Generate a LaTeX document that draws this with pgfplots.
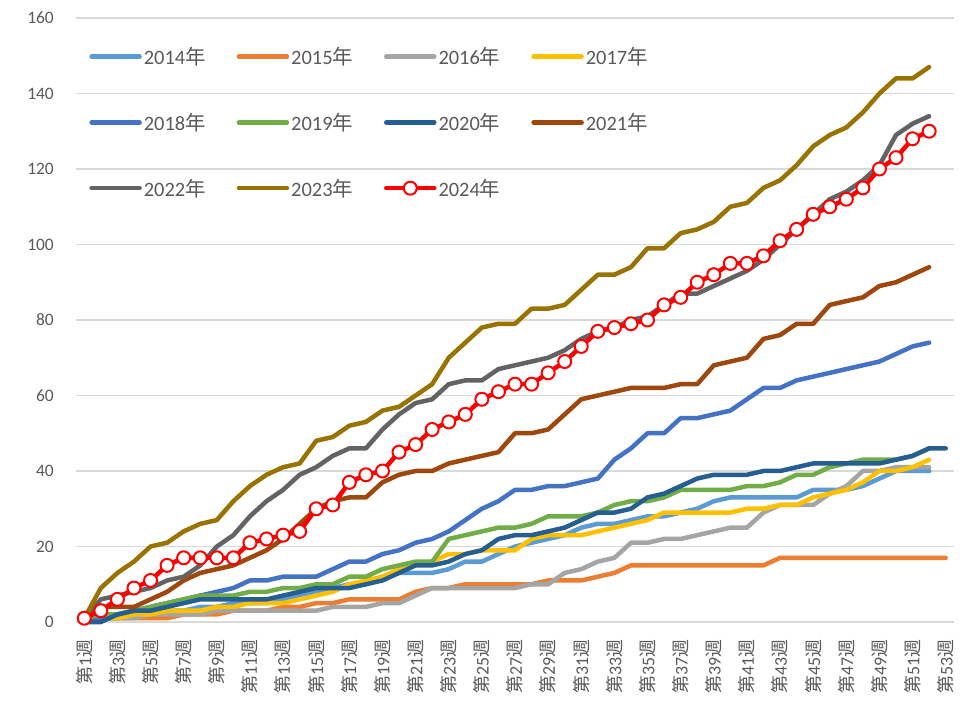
\documentclass[border=0pt]{standalone}
\usepackage{pgfplots}
\pgfplotsset{compat=1.18}
\usepackage{pgfplotstable}
\usepackage{fontspec}
\setmainfont{Carlito}
\newfontfamily\cjk{Noto Sans CJK JP}
\definecolor{c14}{HTML}{5B9BD5}
\definecolor{c15}{HTML}{ED7D31}
\definecolor{c16}{HTML}{A5A5A5}
\definecolor{c17}{HTML}{FFC000}
\definecolor{c18}{HTML}{4472C4}
\definecolor{c19}{HTML}{70AD47}
\definecolor{c20}{HTML}{255E91}
\definecolor{c21}{HTML}{9E480E}
\definecolor{c22}{HTML}{636363}
\definecolor{c23}{HTML}{997300}
\definecolor{c24}{HTML}{FF0000}
\definecolor{txtgray}{HTML}{595959}
\definecolor{gridc}{HTML}{D9D9D9}
\newcommand\W[1]{{\cjk 第}#1{\cjk 週}}
\newcommand\Y[1]{#1{\cjk 年}}
\pgfplotstableread{
w a b c d e f g h i j k
1 1 1 1 1 0 1 0 1 1 1 1
2 1 1 1 1 1 2 0 4 6 9 3
3 1 1 1 1 2 2 2 4 7 13 6
4 2 1 1 2 3 3 3 4 8 16 9
5 2 1 2 2 4 4 3 6 9 20 11
6 3 1 2 3 5 5 4 8 11 21 15
7 3 2 2 3 6 6 5 11 12 24 17
8 4 2 2 3 7 7 6 13 15 26 17
9 4 2 3 4 8 7 6 14 20 27 17
10 5 3 3 4 9 7 6 15 23 32 17
11 5 3 3 5 11 8 6 17 28 36 21
12 5 3 3 5 11 8 6 19 32 39 22
13 6 4 3 5 12 9 7 22 35 41 23
14 7 4 3 6 12 9 8 26 39 42 24
15 8 5 3 7 12 10 9 30 41 48 30
16 9 5 4 8 14 10 9 32 44 49 31
17 10 6 4 10 16 12 9 33 46 52 37
18 10 6 4 11 16 12 10 33 46 53 39
19 12 6 5 12 18 14 11 37 51 56 40
20 13 6 5 14 19 15 13 39 55 57 45
21 13 8 7 15 21 16 15 40 58 60 47
22 13 9 9 16 22 16 15 40 59 63 51
23 14 9 9 18 24 22 16 42 63 70 53
24 16 10 9 18 27 23 18 43 64 74 55
25 16 10 9 19 30 24 19 44 64 78 59
26 18 10 9 19 32 25 22 45 67 79 61
27 20 10 9 19 35 25 23 50 68 79 63
28 21 10 10 22 35 26 23 50 69 83 63
29 22 11 10 23 36 28 24 51 70 83 66
30 23 11 13 23 36 28 25 55 72 84 69
31 25 11 14 23 37 28 27 59 75 88 73
32 26 12 16 24 38 29 29 60 77 92 77
33 26 13 17 25 43 31 29 61 78 92 78
34 27 15 21 26 46 32 30 62 80 94 79
35 28 15 21 27 50 32 33 62 81 99 80
36 28 15 22 29 50 33 34 62 84 99 84
37 29 15 22 29 54 35 36 63 87 103 86
38 30 15 23 29 54 35 38 63 87 104 90
39 32 15 24 29 55 35 39 68 89 106 92
40 33 15 25 29 56 35 39 69 91 110 95
41 33 15 25 30 59 36 39 70 93 111 95
42 33 15 29 30 62 36 40 75 96 115 97
43 33 17 31 31 62 37 40 76 100 117 101
44 33 17 31 31 64 39 41 79 104 121 104
45 35 17 31 33 65 39 42 79 108 126 108
46 35 17 34 34 66 41 42 84 112 129 110
47 35 17 36 35 67 42 42 85 114 131 112
48 36 17 40 37 68 43 42 86 117 135 115
49 38 17 40 40 69 43 42 89 121 140 120
50 40 17 41 40 71 43 43 90 129 144 123
51 40 17 41 41 73 44 44 92 132 144 128
52 40 17 41 43 74 46 46 94 134 147 130
53 nan 17 nan nan nan nan 46 nan nan nan nan
}\data
\begin{document}
\begin{tikzpicture}
\useasboundingbox (-76bp,-89bp) rectangle (889bp,622bp);
\begin{axis}[
  scale only axis, width=878bp, height=604bp,
  xmin=0.5, xmax=53.5, ymin=0, ymax=160,
  ytick={0,20,...,160},
  xtick={1,3,...,53},
  xticklabels={\W{1},\W{3},\W{5},\W{7},\W{9},\W{11},\W{13},\W{15},\W{17},\W{19},\W{21},\W{23},\W{25},\W{27},\W{29},\W{31},\W{33},\W{35},\W{37},\W{39},\W{41},\W{43},\W{45},\W{47},\W{49},\W{51},\W{53}},
  ymajorgrids, major grid style={draw=gridc, line width=1.3bp},
  axis line style={draw=none}, tick style={draw=none},
  /pgf/number format/assume math mode=true,
  yticklabel style={font=\fontsize{17.5}{20}\selectfont, text=txtgray, inner sep=0pt},
  yticklabel shift=22bp,
  xticklabel style={font=\fontsize{18}{21}\selectfont, text=txtgray, rotate=90, anchor=east, inner sep=0pt},
  xticklabel shift=17bp,
  clip=false,
  legend columns=4,
  legend cell align=left,
  legend image code/.code={\draw[mark repeat=2,mark phase=2,#1] plot coordinates {(0bp,0bp) (24bp,0bp) (48bp,0bp)};},
  legend style={draw=none, fill=none, font=\fontsize{20.5}{24}\selectfont, text=txtgray,
    at={(rel axis cs:0.015,0.955)}, anchor=north west, inner sep=0pt,
    nodes={inner sep=2bp},
    /tikz/every even column/.append style={column sep=29bp},
    row sep=43bp},
  every axis plot/.append style={line width=4.5bp, line join=round, line cap=round},
]
\addplot[c14, no marks] table[x=w,y=a]{\data}; \addlegendentry{\Y{2014}}
\addplot[c15, no marks] table[x=w,y=b]{\data}; \addlegendentry{\Y{2015}}
\addplot[c16, no marks] table[x=w,y=c]{\data}; \addlegendentry{\Y{2016}}
\addplot[c17, no marks] table[x=w,y=d]{\data}; \addlegendentry{\Y{2017}}
\addplot[c18, no marks] table[x=w,y=e]{\data}; \addlegendentry{\Y{2018}}
\addplot[c19, no marks] table[x=w,y=f]{\data}; \addlegendentry{\Y{2019}}
\addplot[c20, no marks] table[x=w,y=g]{\data}; \addlegendentry{\Y{2020}}
\addplot[c21, no marks] table[x=w,y=h]{\data}; \addlegendentry{\Y{2021}}
\addplot[c22, no marks] table[x=w,y=i]{\data}; \addlegendentry{\Y{2022}}
\addplot[c23, no marks] table[x=w,y=j]{\data}; \addlegendentry{\Y{2023}}
\addplot[c24, mark=*, mark size=6.5bp, mark options={fill=white, draw=c24, line width=2bp}] table[x=w,y=k]{\data}; \addlegendentry{\Y{2024}}
\end{axis}
\end{tikzpicture}
\end{document}
